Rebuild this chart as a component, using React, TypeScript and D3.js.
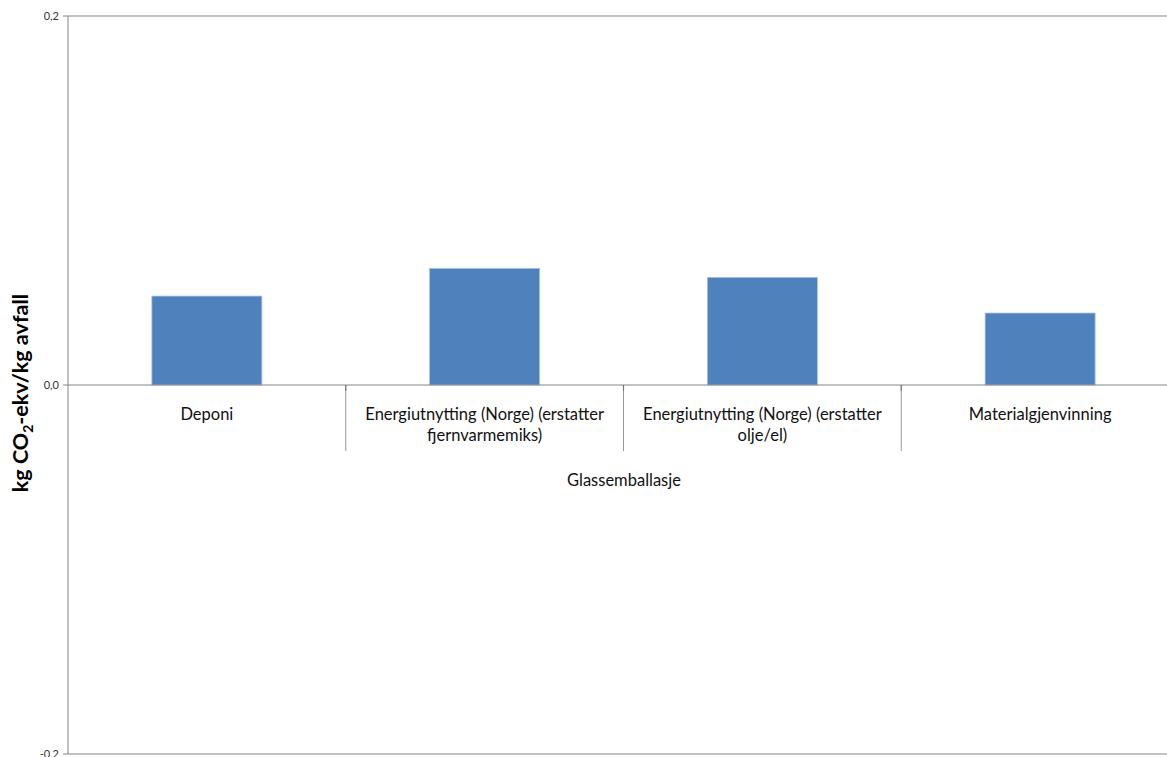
import React from "react";
import * as d3 from "d3";

const categories: string[][] = [
  ["Deponi"],
  ["Energiutnytting (Norge) (erstatter", "fjernvarmemiks)"],
  ["Energiutnytting (Norge) (erstatter", "olje/el)"],
  ["Materialgjenvinning"],
];
const values: number[] = [0.0482, 0.0632, 0.0583, 0.039];
const yTicks: number[] = [-0.2, 0, 0.2];
const groupLabel = "Glassemballasje";

const W = 1167;
const H = 757;
const left = 68;
const right = 1179;
const top = 16;
const bottom = 754;
const font = "Lato, 'Open Sans', sans-serif";

export default function App() {
  const y = d3.scaleLinear().domain([-0.2, 0.2]).range([bottom, top]);
  const x = d3
    .scaleBand<number>()
    .domain(categories.map((_, i) => i))
    .range([left, right])
    .paddingInner(0.604)
    .paddingOuter(0.302);
  const step = (right - left) / categories.length;
  const y0 = y(0);
  const fmt = (v: number) => d3.format(".1f")(v).replace(".", ",").replace("−", "-");
  const lineCol = "#868686";

  return (
    <svg
      width={W}
      height={H}
      style={{ position: "absolute", left: 0, top: 0, background: "#fff" }}
    >
      {yTicks
        .filter((t) => t !== 0)
        .map((t) => (
          <line key={"g" + t} x1={left} x2={right} y1={y(t)} y2={y(t)} stroke={lineCol} strokeWidth={1} />
        ))}
      {values.map((v, i) => (
        <rect
          key={"b" + i}
          x={x(i)!}
          y={y(Math.max(0, v))}
          width={x.bandwidth()}
          height={Math.abs(y(v) - y0)}
          fill="#4F81BD"
          stroke="#a7bfde"
          strokeWidth={0.8}
        />
      ))}
      <line x1={left} x2={left} y1={top} y2={bottom} stroke={lineCol} strokeWidth={1} />
      {yTicks.map((t) => (
        <g key={"t" + t}>
          <line x1={left - 5} x2={left} y1={y(t)} y2={y(t)} stroke={lineCol} strokeWidth={1} />
          <text
            x={left - 9}
            y={y(t)}
            dy="0.32em"
            textAnchor="end"
            fontSize={11}
            fontFamily={font}
            fill="#333"
          >
            {fmt(t)}
          </text>
        </g>
      ))}
      <line x1={left} x2={right} y1={y0} y2={y0} stroke={lineCol} strokeWidth={1.2} />
      {categories.slice(1).map((_, i) => {
        const sx = left + step * (i + 1);
        return (
          <g key={"s" + i}>
            <line x1={sx} x2={sx} y1={y0} y2={y0 + 66} stroke="#9a9a9a" strokeWidth={1} />
            <line x1={sx} x2={sx} y1={y0} y2={y0 + 6} stroke="#777" strokeWidth={1.2} />
          </g>
        );
      })}
      {categories.map((lines, i) => (
        <text
          key={"c" + i}
          x={x(i)! + x.bandwidth() / 2}
          y={y0 + 35}
          textAnchor="middle"
          fontSize={16.5}
          fontFamily={font}
          fill="#111"
        >
          {lines.map((l, j) => (
            <tspan key={j} x={x(i)! + x.bandwidth() / 2} dy={j === 0 ? 0 : 21}>
              {l}
            </tspan>
          ))}
        </text>
      ))}
      <text
        x={624}
        y={y0 + 101}
        textAnchor="middle"
        fontSize={16.5}
        fontFamily={font}
        fill="#111"
      >
        {groupLabel}
      </text>
      <text
        transform={`translate(28, ${y0 + 8}) rotate(-90)`}
        textAnchor="middle"
        fontSize={21.5}
        fontWeight="bold"
        fontFamily={font}
        fill="#000"
      >
        kg CO
        <tspan fontSize={14} dy={5}>2</tspan>
        <tspan dy={-5}>-ekv/kg avfall</tspan>
      </text>
    </svg>
  );
}
